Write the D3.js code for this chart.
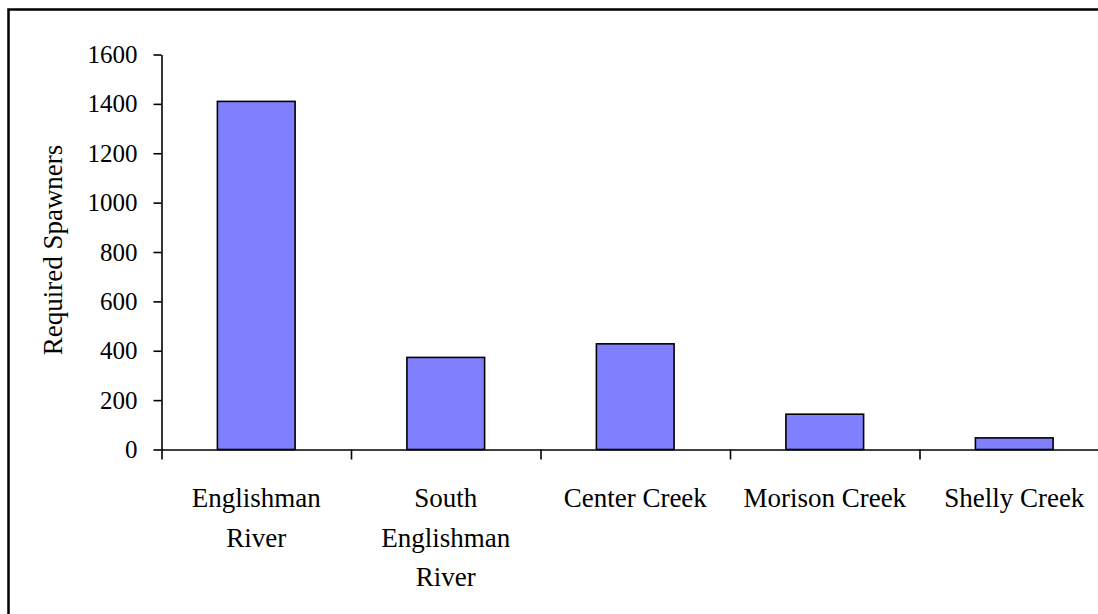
<!DOCTYPE html>
<html>
<head>
<meta charset="utf-8">
<script src="https://cdn.jsdelivr.net/npm/d3@7"></script>
<style>
  body { margin: 0; background: #fff; }
  svg { display: block; }
  text { font-family: "Liberation Serif", "Times New Roman", serif; fill: #000; }
</style>
</head>
<body>
<div id="chart"></div>
<script>
// data
const categories = ["Englishman River", "South Englishman River", "Center Creek", "Morison Creek", "Shelly Creek"];
const labelLines = [["Englishman", "River"], ["South", "Englishman", "River"], ["Center Creek"], ["Morison Creek"], ["Shelly Creek"]];
const spawners = [1410, 373, 428, 143, 47];
const yTicks = [0, 200, 400, 600, 800, 1000, 1200, 1400, 1600];

const width = 1098,
    height = 614,
    plot = { left: 161.5, top: 54.5, bottom: 449.5, right: 1109 };

const svg = d3.select("#chart")
    .append("svg")
    .attr("width", width)
    .attr("height", height);

// outer frame (right/bottom edges fall outside the picture)
svg.append("rect")
    .attr("x", 8.5)
    .attr("y", 9.5)
    .attr("width", 1200)
    .attr("height", 700)
    .attr("fill", "none")
    .attr("stroke", "#000")
    .attr("stroke-width", 2.5);

const xScale = d3.scaleBand()
    .domain(categories)
    .range([plot.left, plot.right])
    .paddingInner(0.59)
    .paddingOuter(0.295);

// band edges for the x tick marks
const edgeScale = d3.scaleLinear()
    .domain([0, categories.length])
    .range([plot.left, plot.right]);

const yScale = d3.scaleLinear()
    .domain([0, 1600])
    .range([plot.bottom, plot.top]);

// bars
svg.selectAll(".bar")
    .data(categories)
    .join("rect")
    .attr("class", "bar")
    .attr("x", d => xScale(d))
    .attr("width", xScale.bandwidth())
    .attr("y", (d, i) => yScale(spawners[i]))
    .attr("height", (d, i) => yScale(0) - yScale(spawners[i]))
    .attr("fill", "#8080ff")
    .attr("stroke", "#000")
    .attr("stroke-width", 1.6);

// y axis
const yAxis = d3.axisLeft(yScale)
    .tickValues(yTicks)
    .tickSize(8)
    .tickPadding(16)
    .tickSizeOuter(0)
    .tickFormat(d3.format("d"));

svg.append("g")
    .attr("class", "axis y-axis")
    .attr("transform", `translate(${plot.left},0)`)
    .call(yAxis)
    .attr("font-family", null)
    .call(g => g.selectAll("text").style("font-size", "25px"))
    .call(g => g.selectAll("line, path").attr("stroke", "#000").attr("stroke-width", 1.6));

// x axis, ticks between the categories
const xAxis = d3.axisBottom(edgeScale)
    .tickValues(d3.range(categories.length + 1))
    .tickSize(10)
    .tickSizeOuter(0)
    .tickFormat("");

svg.append("g")
    .attr("class", "axis x-axis")
    .attr("transform", `translate(0,${plot.bottom})`)
    .call(xAxis)
    .call(g => g.selectAll("line, path").attr("stroke", "#000").attr("stroke-width", 1.6));

// category labels
svg.selectAll(".xlabel")
    .data(categories)
    .join("text")
    .attr("class", "xlabel")
    .attr("text-anchor", "middle")
    .style("font-size", "27px")
    .attr("transform", d => `translate(${xScale(d) + xScale.bandwidth() / 2},507)`)
    .selectAll("tspan")
    .data((d, i) => labelLines[i])
    .join("tspan")
    .attr("x", 0)
    .attr("y", (d, i) => i * 39.5)
    .text(d => d);

// y axis title
svg.append("text")
    .attr("transform", "translate(62,250) rotate(-90)")
    .attr("text-anchor", "middle")
    .style("font-size", "27px")
    .text("Required Spawners");
</script>
</body>
</html>
